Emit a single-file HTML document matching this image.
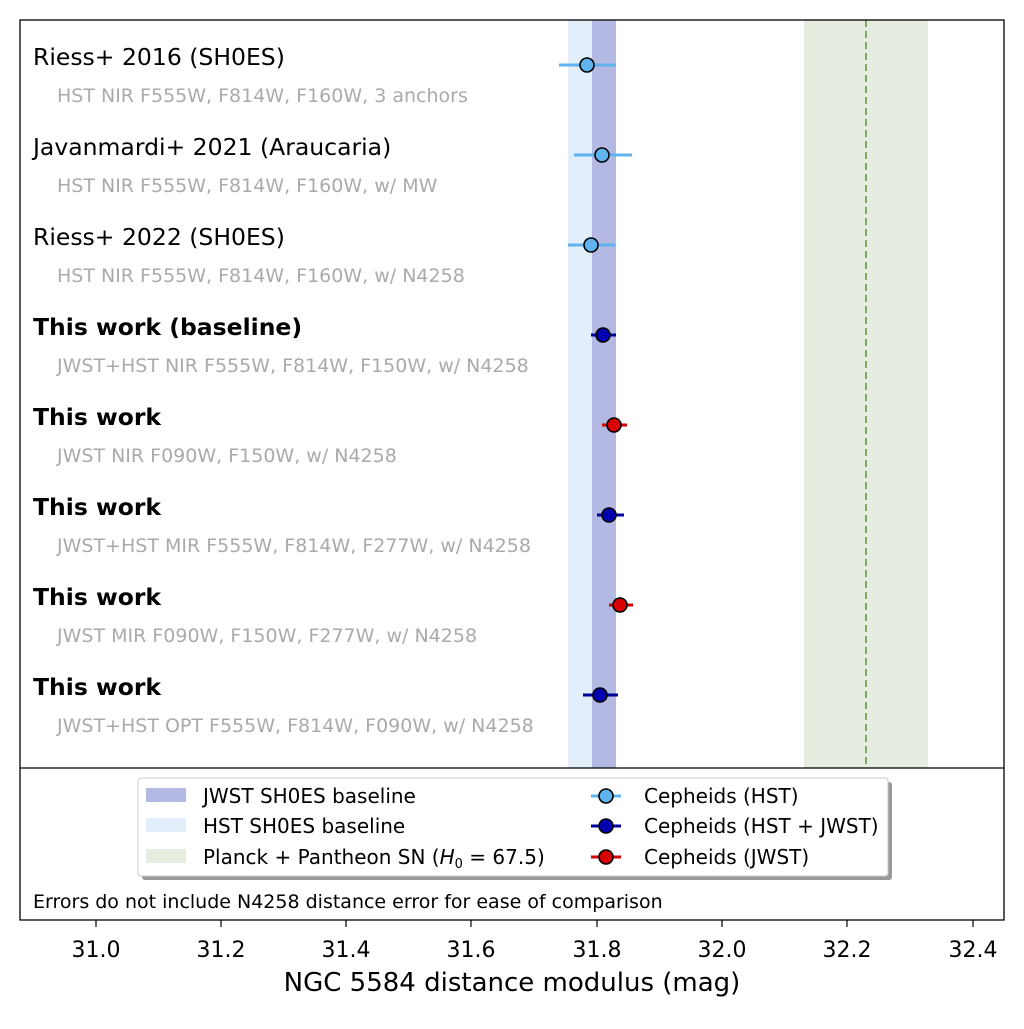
<!DOCTYPE html>
<html><head><meta charset="utf-8"><style>body{margin:0;background:#fff}</style></head><body>
<svg width="1024" height="1024" xmlns="http://www.w3.org/2000/svg" font-family="DejaVu Sans, Liberation Sans, sans-serif">
<rect x="568" y="20" width="24" height="748" fill="#e2effb"/>
<rect x="592" y="20" width="24" height="748" fill="#b3b9e2"/>
<rect x="804" y="20" width="124" height="748" fill="#e6ecdf"/>
<line x1="866" y1="20" x2="866" y2="768" stroke="#5f9a45" stroke-width="1.6" stroke-dasharray="7,4"/>
<line x1="20" y1="768" x2="1004" y2="768" stroke="#000" stroke-width="1.2"/>
<rect x="20" y="20" width="984" height="900" fill="none" stroke="#000" stroke-width="1.3"/>
<g font-size="23.5" fill="#000">
<text x="33" y="65">Riess+ 2016 (SH0ES)</text>
<text x="33" y="155">Javanmardi+ 2021 (Araucaria)</text>
<text x="33" y="245">Riess+ 2022 (SH0ES)</text>
<text x="33" y="335" font-weight="bold">This work (baseline)</text>
<text x="33" y="425" font-weight="bold">This work</text>
<text x="33" y="515" font-weight="bold">This work</text>
<text x="33" y="605" font-weight="bold">This work</text>
<text x="33" y="695" font-weight="bold">This work</text>
</g>
<g font-size="19" fill="#aaa">
<text x="57" y="102">HST NIR F555W, F814W, F160W, 3 anchors</text>
<text x="57" y="192">HST NIR F555W, F814W, F160W, w/ MW</text>
<text x="57" y="282">HST NIR F555W, F814W, F160W, w/ N4258</text>
<text x="57" y="372">JWST+HST NIR F555W, F814W, F150W, w/ N4258</text>
<text x="57" y="462">JWST NIR F090W, F150W, w/ N4258</text>
<text x="57" y="552">JWST+HST MIR F555W, F814W, F277W, w/ N4258</text>
<text x="57" y="642">JWST MIR F090W, F150W, F277W, w/ N4258</text>
<text x="57" y="732">JWST+HST OPT F555W, F814W, F090W, w/ N4258</text>
</g>
<g stroke-width="3">
<line x1="559" y1="65" x2="616" y2="65" stroke="#5fb3ee"/>
<line x1="574" y1="155" x2="632" y2="155" stroke="#5fb3ee"/>
<line x1="568" y1="245" x2="615" y2="245" stroke="#5fb3ee"/>
<line x1="591" y1="335" x2="616" y2="335" stroke="#0000a0"/>
<line x1="602" y1="425" x2="627" y2="425" stroke="#d00000"/>
<line x1="597" y1="515" x2="624" y2="515" stroke="#0000a0"/>
<line x1="609" y1="605" x2="633" y2="605" stroke="#d00000"/>
<line x1="583" y1="695" x2="618" y2="695" stroke="#0000a0"/>
</g>
<g stroke="#000" stroke-width="1.6">
<circle cx="587" cy="65" r="7" fill="#5fb3ee"/>
<circle cx="602" cy="155" r="7" fill="#5fb3ee"/>
<circle cx="591" cy="245" r="7" fill="#5fb3ee"/>
<circle cx="603" cy="335" r="7" fill="#0000b0"/>
<circle cx="614" cy="425" r="7" fill="#d80000"/>
<circle cx="609" cy="515" r="7" fill="#0000b0"/>
<circle cx="620" cy="605" r="7" fill="#d80000"/>
<circle cx="600" cy="695" r="7" fill="#0000b0"/>
</g>
<rect x="142" y="782" width="750" height="98" fill="#999" rx="3"/>
<rect x="138" y="778" width="750" height="98" fill="#fff" stroke="#ccc" rx="3"/>
<rect x="146" y="788" width="40" height="14" fill="#b3b9e2"/>
<rect x="146" y="818" width="40" height="14" fill="#e2effb"/>
<rect x="146" y="849" width="40" height="14" fill="#e6ecdf"/>
<g font-size="20" fill="#000">
<text x="203" y="803">JWST SH0ES baseline</text>
<text x="203" y="833">HST SH0ES baseline</text>
<text x="203" y="864">Planck + Pantheon SN (<tspan font-style="italic">H</tspan><tspan font-size="13" dy="4">0</tspan><tspan dy="-4"> = 67.5)</tspan></text>
<text x="644" y="803">Cepheids (HST)</text>
<text x="644" y="833">Cepheids (HST + JWST)</text>
<text x="644" y="864">Cepheids (JWST)</text>
</g>
<g stroke-width="3"><line x1="591" y1="796" x2="621" y2="796" stroke="#5fb3ee"/><line x1="591" y1="826" x2="621" y2="826" stroke="#0000a0"/><line x1="591" y1="857" x2="621" y2="857" stroke="#d00000"/></g>
<g stroke="#000" stroke-width="1.6"><circle cx="606" cy="796" r="7" fill="#5fb3ee"/><circle cx="606" cy="826" r="7" fill="#0000b0"/><circle cx="606" cy="857" r="7" fill="#d80000"/></g>
<text x="33" y="908" font-size="19">Errors do not include N4258 distance error for ease of comparison</text>
<g stroke="#000" stroke-width="1.2">
<line x1="96" y1="920" x2="96" y2="927"/><line x1="221" y1="920" x2="221" y2="927"/><line x1="346" y1="920" x2="346" y2="927"/><line x1="471" y1="920" x2="471" y2="927"/><line x1="597" y1="920" x2="597" y2="927"/><line x1="722" y1="920" x2="722" y2="927"/><line x1="847" y1="920" x2="847" y2="927"/><line x1="973" y1="920" x2="973" y2="927"/>
</g>
<g font-size="22" text-anchor="middle">
<text x="96" y="957">31.0</text><text x="221" y="957">31.2</text><text x="346" y="957">31.4</text><text x="471" y="957">31.6</text><text x="597" y="957">31.8</text><text x="722" y="957">32.0</text><text x="847" y="957">32.2</text><text x="973" y="957">32.4</text>
<text x="512" y="991" font-size="26">NGC 5584 distance modulus (mag)</text>
</g>
</svg>
</body></html>
